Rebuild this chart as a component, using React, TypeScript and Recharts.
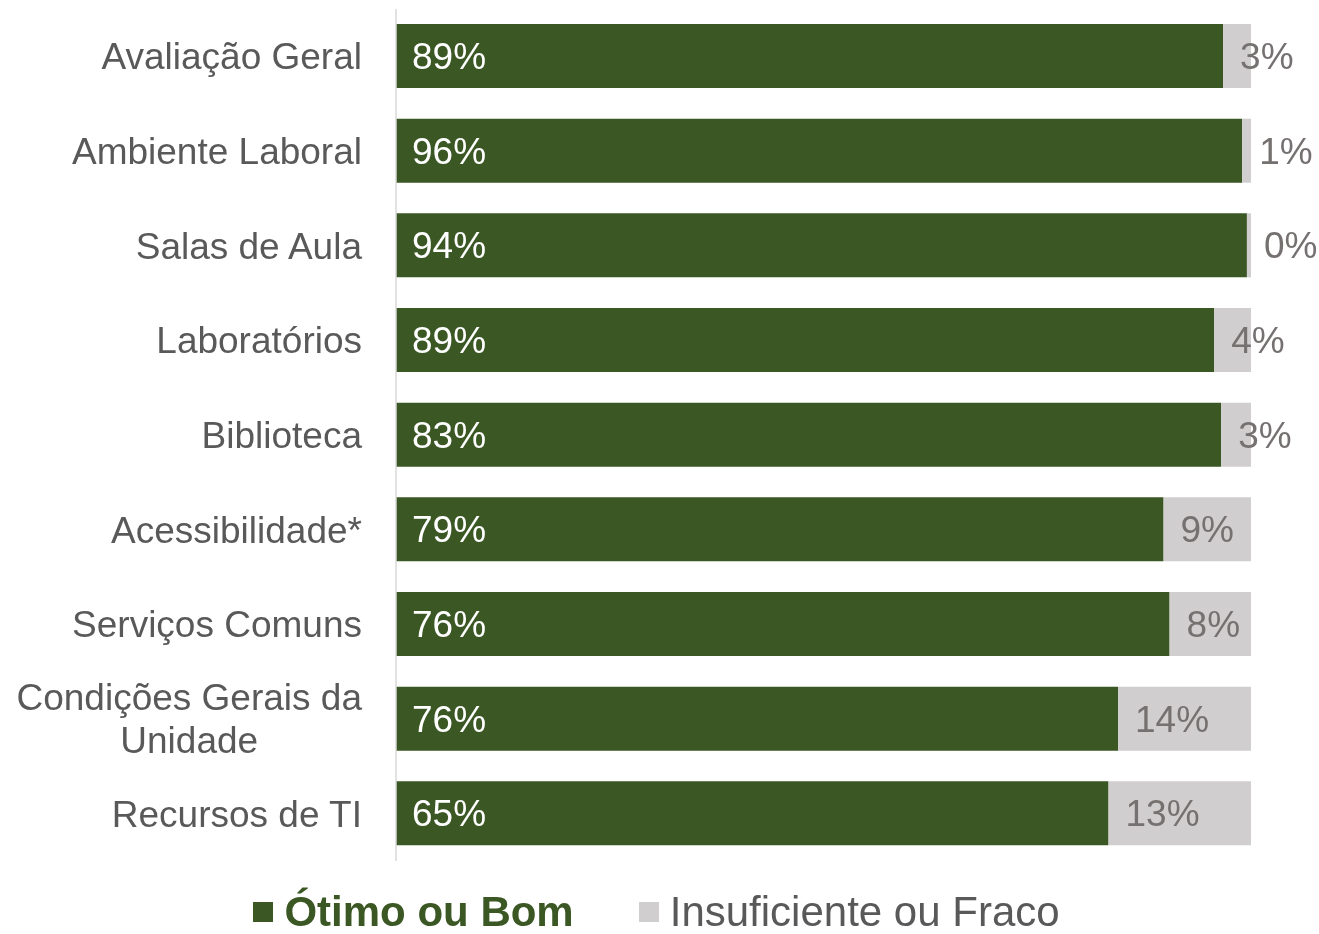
import React from 'react';
import { BarChart, Bar, XAxis, YAxis, Legend, LabelList } from 'recharts';

const categories = [
  'Avaliação Geral',
  'Ambiente Laboral',
  'Salas de Aula',
  'Laboratórios',
  'Biblioteca',
  'Acessibilidade*',
  'Serviços Comuns',
  'Condições Gerais da Unidade',
  'Recursos de TI',
];
const goodValues = [89, 96, 94, 89, 83, 79, 76, 76, 65];
const poorValues = [3, 1, 0.45, 4, 3, 9, 8, 14, 13];
const seriesNames = ['Ótimo ou Bom', 'Insuficiente ou Fraco'];

const GREEN = '#3A5724';
const GREY = '#D0CECE';
const FONT = "'Liberation Sans', Arial, sans-serif";
const FS = 37;
const W = 1319;
const H = 934;

const data = categories.map((c, i) => ({ name: c, good: goodValues[i], poor: poorValues[i] }));

let ctx: CanvasRenderingContext2D | null = null;
function measure(text: string): number {
  if (!ctx) {
    const c = document.createElement('canvas');
    ctx = c.getContext('2d');
  }
  if (!ctx) return text.length * FS * 0.5;
  ctx.font = `${FS}px ${FONT}`;
  return ctx.measureText(text).width;
}

function wrap(text: string, maxW: number): string[] {
  const words = text.split(' ');
  const lines: string[] = [];
  let cur = '';
  for (const w of words) {
    const t = cur ? cur + ' ' + w : w;
    if (measure(t) > maxW && cur) {
      lines.push(cur);
      cur = w;
    } else cur = t;
  }
  if (cur) lines.push(cur);
  return lines;
}

const Tick = (props: any) => {
  const { x, y, payload } = props;
  const right = x - 34;
  const lines = wrap(String(payload.value), 360);
  if (lines.length === 1) {
    return (
      <text x={right} y={y} dy="0.35em" textAnchor="end" fill="#595959" fontSize={FS} fontFamily={FONT}>
        {lines[0]}
      </text>
    );
  }
  const maxW = Math.max(...lines.map(measure));
  const cx = right - maxW / 2;
  const lh = 43;
  const start = y - ((lines.length - 1) * lh) / 2;
  return (
    <text textAnchor="middle" fill="#595959" fontSize={FS} fontFamily={FONT}>
      {lines.map((l, i) => (
        <tspan key={i} x={cx} y={start + i * lh} dy="0.35em">
          {l}
        </tspan>
      ))}
    </text>
  );
};

const fmt = (v: any) => `${Math.round(Number(v))}%`;

const LegendContent = () => {
  const colors = [GREEN, GREY];
  return (
    <div style={{ display: 'flex', justifyContent: 'center', alignItems: 'center', fontFamily: FONT, fontSize: 42, lineHeight: '44px', height: 44, paddingRight: 6 }}>
      {seriesNames.map((n, i) => (
        <div key={n} style={{ display: 'flex', alignItems: 'center', marginRight: i === 0 ? 65 : 0 }}>
          <span style={{ display: 'inline-block', width: 20, height: 20, background: colors[i], marginRight: 11 }} />
          <span style={{ color: i === 0 ? GREEN : '#595959', fontWeight: i === 0 ? 'bold' : 'normal' }}>{n}</span>
        </div>
      ))}
    </div>
  );
};

export default function App() {
  return (
    <div style={{ position: 'fixed', left: 0, top: 0, width: W, height: H, overflow: 'hidden' }}>
      <BarChart
        width={W}
        height={H}
        data={data}
        layout="vertical"
        stackOffset="expand"
        barSize={64}
        margin={{ top: 9, right: 68, bottom: 29, left: 0 }}
      >
        <XAxis type="number" hide domain={[0, 1]} />
        <YAxis
          type="category"
          dataKey="name"
          width={396}
          tick={<Tick />}
          tickLine={false}
          tickSize={0}
          tickMargin={0}
          axisLine={{ stroke: '#D9D9D9', strokeWidth: 1.5 }}
          interval={0}
        />
        <Legend
          verticalAlign="bottom"
          content={<LegendContent />}
          wrapperStyle={{ bottom: 0, left: 0, width: W }}
        />
        <Bar dataKey="good" name={seriesNames[0]} stackId="a" fill={GREEN} isAnimationActive={false}>
          <LabelList dataKey="good" position="insideLeft" offset={16} formatter={fmt} fill="#FFFFFF" fontSize={FS} fontFamily={FONT} />
        </Bar>
        <Bar dataKey="poor" name={seriesNames[1]} stackId="a" fill={GREY} isAnimationActive={false}>
          <LabelList dataKey="poor" position="insideLeft" offset={17} formatter={fmt} fill="#767171" fontSize={FS} fontFamily={FONT} />
        </Bar>
      </BarChart>
    </div>
  );
}
